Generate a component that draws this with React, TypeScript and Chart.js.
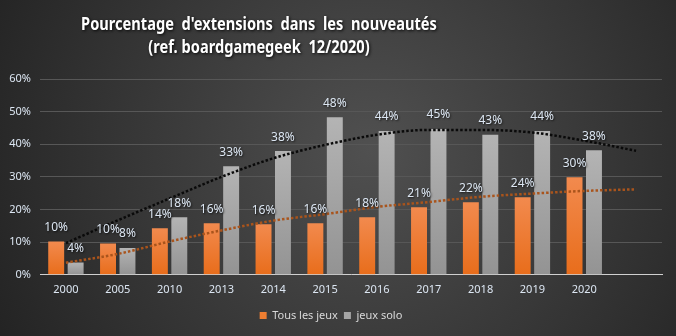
import React, { useEffect, useRef } from 'react';
import { Chart, registerables } from 'chart.js';
Chart.register(...registerables);

const categories = ['2000', '2005', '2010', '2013', '2014', '2015', '2016', '2017', '2018', '2019', '2020', ''];
const tousLesJeux = [10.2, 9.6, 14.3, 15.8, 15.5, 15.8, 17.6, 20.7, 22.2, 23.8, 29.9];
const jeuxSolo = [3.8, 8.2, 17.6, 33.3, 37.9, 48.3, 44.1, 44.7, 42.9, 44.1, 38.2];
const trendTous = [3.7, 6.4, 10.2, 13.6, 16.6, 18.6, 20.8, 22.3, 23.9, 24.9, 25.7, 26.2];
const trendSolo = [9.7, 16.7, 23.4, 30.0, 35.7, 39.8, 42.9, 44.4, 44.4, 43.6, 41.1, 38.0];
const yMin = 0;
const yMax = 60;
const yStep = 10;
const titleLines = ["Pourcentage  d'extensions  dans  les  nouveautés", '(ref. boardgamegeek  12/2020)'];
const seriesNames = ['Tous les jeux', 'jeux solo'];

const FONT = "'Noto Sans', 'Open Sans', sans-serif";

function barGradient(ctx: any, top: string, bottom: string, fallback: string) {
  const chart = ctx.chart;
  const area = chart.chartArea;
  if (!area || ctx.type !== 'data' || ctx.parsed == null) return fallback;
  const yScale = chart.scales.y;
  const yTop = yScale.getPixelForValue(ctx.parsed.y);
  const yBot = yScale.getPixelForValue(0);
  if (!isFinite(yTop) || !isFinite(yBot) || yTop === yBot) return fallback;
  const g = chart.ctx.createLinearGradient(0, yTop, 0, yBot);
  g.addColorStop(0, top);
  g.addColorStop(1, bottom);
  return g;
}

const backgroundPlugin = {
  id: 'bgPlugin',
  beforeDraw(chart: any) {
    const { ctx, width, height } = chart;
    ctx.save();
    const g = ctx.createRadialGradient(370, 150, 0, 370, 150, 430);
    g.addColorStop(0, '#505050');
    g.addColorStop(1, '#222222');
    ctx.fillStyle = g;
    ctx.fillRect(0, 0, width, height);
    ctx.restore();
  },
};

const titlePlugin = {
  id: 'titlePlugin',
  afterDraw(chart: any) {
    const { ctx } = chart;
    ctx.save();
    ctx.font = `bold 17px ${FONT}`;
    ctx.textAlign = 'center';
    ctx.textBaseline = 'alphabetic';
    ctx.fillStyle = '#ffffff';
    ctx.shadowColor = 'rgba(0,0,0,0.85)';
    ctx.shadowBlur = 3;
    ctx.shadowOffsetX = 1;
    ctx.shadowOffsetY = 1;
    const sx = 0.86;
    ctx.scale(sx, 1);
    ctx.fillText(titleLines[0], 259 / sx, 30);
    ctx.fillText(titleLines[1], 259 / sx, 53);
    ctx.restore();
  },
};

const labelPlugin = {
  id: 'labelPlugin',
  afterDatasetsDraw(chart: any) {
    const { ctx } = chart;
    ctx.save();
    ctx.font = `12px ${FONT}`;
    ctx.textAlign = 'center';
    ctx.textBaseline = 'middle';
    ctx.fillStyle = '#dce6f2';
    ctx.shadowColor = 'rgba(0,0,0,0.7)';
    ctx.shadowBlur = 2;
    ctx.shadowOffsetX = 1;
    ctx.shadowOffsetY = 1;
    chart.data.datasets.forEach((ds: any, i: number) => {
      if (ds.type !== 'bar') return;
      const meta = chart.getDatasetMeta(i);
      meta.data.forEach((el: any, j: number) => {
        const v = ds.data[j];
        if (v == null) return;
        ctx.fillText(`${Math.round(v)}%`, el.x, el.y - 14);
      });
    });
    ctx.restore();
  },
};

export default function App() {
  const ref = useRef<HTMLCanvasElement | null>(null);
  useEffect(() => {
    document.body.style.margin = '0';
    const canvas = ref.current;
    if (!canvas) return;
    const chart = new Chart(canvas, {
      type: 'bar',
      data: {
        labels: categories,
        datasets: [
          {
            type: 'line',
            label: 'trend solo',
            data: trendSolo,
            borderColor: '#0a0a0a',
            borderWidth: 2.5,
            borderDash: [2.5, 2],
            pointRadius: 0,
            fill: false,
            cubicInterpolationMode: 'monotone',
            order: 0,
          } as any,
          {
            type: 'line',
            label: 'trend tous',
            data: trendTous,
            borderColor: '#a9541c',
            borderWidth: 2.5,
            borderDash: [2.5, 2],
            pointRadius: 0,
            fill: false,
            cubicInterpolationMode: 'monotone',
            order: 0,
          } as any,
          {
            type: 'bar',
            label: seriesNames[0],
            data: tousLesJeux,
            backgroundColor: (c: any) => barGradient(c, '#f28a4e', '#e86d1b', '#ed7d31'),
            categoryPercentage: 0.75,
            barPercentage: 0.82,
            order: 1,
          },
          {
            type: 'bar',
            label: seriesNames[1],
            data: jeuxSolo,
            backgroundColor: (c: any) => barGradient(c, '#b4b4b4', '#939393', '#a5a5a5'),
            categoryPercentage: 0.75,
            barPercentage: 0.82,
            order: 1,
          },
        ],
      },
      options: {
        responsive: false,
        animation: false,
        layout: { padding: { top: 79, right: 14, bottom: 5, left: 0 } },
        plugins: {
          title: { display: false },
          tooltip: { enabled: false },
          legend: {
            position: 'bottom',
            labels: {
              boxWidth: 7,
              boxHeight: 7,
              padding: 6,
              color: '#d9d9d9',
              font: { family: FONT, size: 11 },
              generateLabels: () => [
                { text: seriesNames[0], fillStyle: '#ed7d31', strokeStyle: '#ed7d31', lineWidth: 0, datasetIndex: 2, fontColor: '#d9d9d9' },
                { text: seriesNames[1], fillStyle: '#a5a5a5', strokeStyle: '#a5a5a5', lineWidth: 0, datasetIndex: 3, fontColor: '#d9d9d9' },
              ] as any,
            },
          },
        },
        scales: {
          x: {
            grid: { display: false, drawTicks: false },
            border: { display: true, color: '#d0d0d0', width: 1 },
            ticks: { color: '#dce6f2', font: { family: FONT, size: 11 }, padding: 8, maxRotation: 0, autoSkip: false },
          },
          y: {
            min: yMin,
            max: yMax,
            grid: { color: '#575757', drawTicks: false },
            border: { display: false },
            ticks: {
              stepSize: yStep,
              color: '#dce6f2',
              font: { family: FONT, size: 11 },
              padding: 9,
              callback: (v: any) => `${v}%`,
            },
            afterFit: (s: any) => {
              s.width = 40;
            },
          },
        },
      },
      plugins: [backgroundPlugin, titlePlugin, labelPlugin],
    } as any);
    return () => chart.destroy();
  }, []);
  return (
    <div style={{ width: 676, height: 336 }}>
      <canvas ref={ref} width={676} height={336} style={{ display: 'block' }} />
    </div>
  );
}
